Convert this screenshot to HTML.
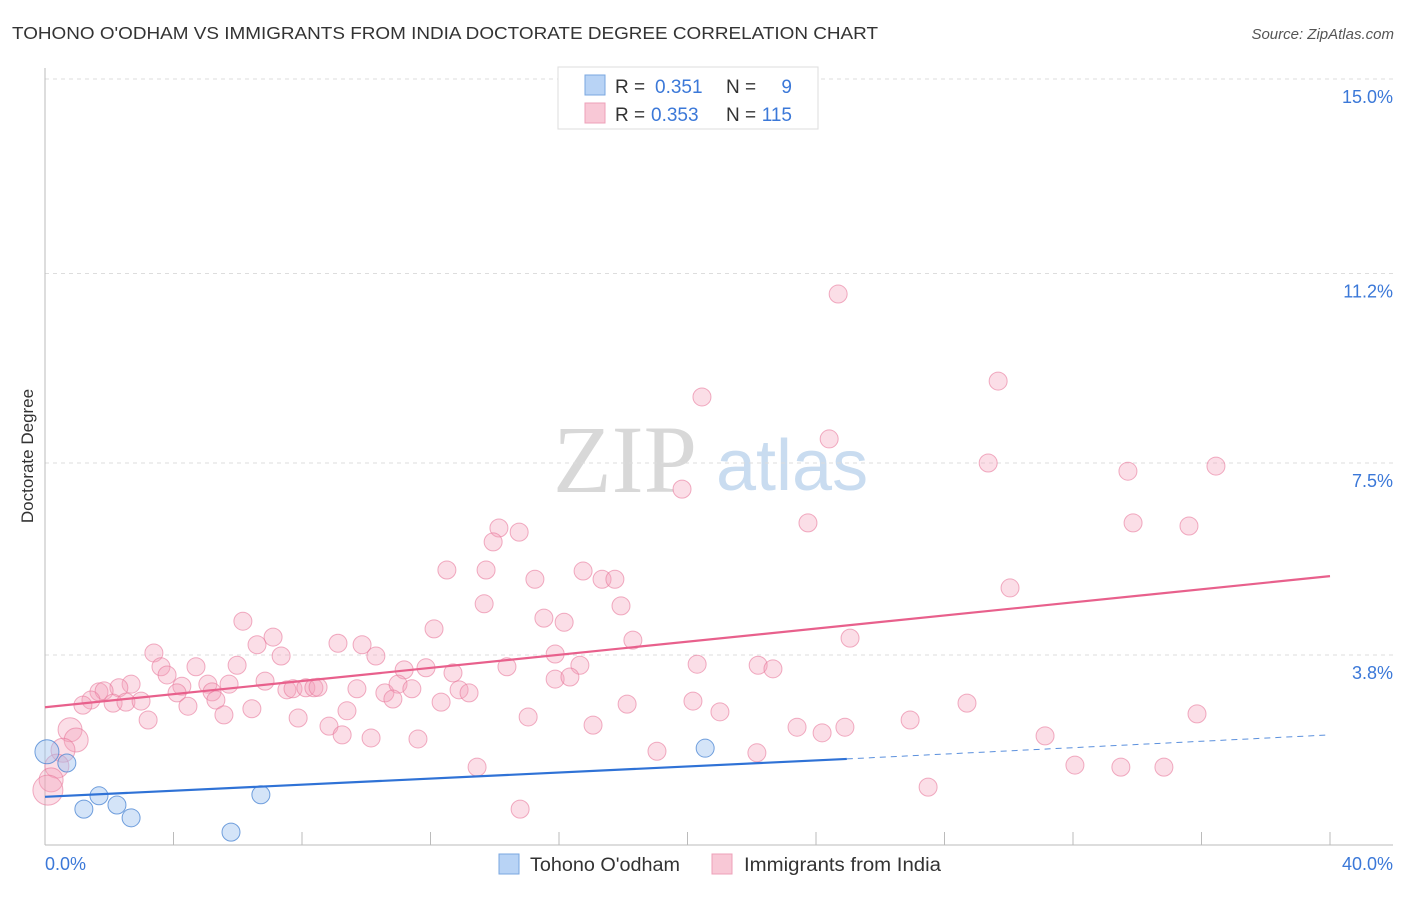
<!DOCTYPE html>
<html><head><meta charset="utf-8">
<style>
body{margin:0;background:#fff;font-family:"Liberation Sans",sans-serif;}
svg text{font-family:"Liberation Sans",sans-serif;}
</style></head>
<body>
<svg id="chart" width="1406" height="892" xmlns="http://www.w3.org/2000/svg">
<text x="12" y="39" font-size="17.5" fill="#333" textLength="866" lengthAdjust="spacingAndGlyphs">TOHONO O'ODHAM VS IMMIGRANTS FROM INDIA DOCTORATE DEGREE CORRELATION CHART</text>
<text x="1394" y="39" font-size="15" fill="#555" text-anchor="end" font-style="italic">Source: ZipAtlas.com</text>
<text x="553" y="492" font-size="96" fill="#d8d8d8" font-family="Liberation Serif" style="font-family:'Liberation Serif',serif">ZIP</text>
<text x="716" y="490" font-size="72" fill="#c9dcf0">atlas</text>
<text transform="translate(33,456) rotate(-90)" font-size="17" fill="#333" text-anchor="middle">Doctorate Degree</text>
<g id="grid"></g>
<g id="axes"></g>
<g id="marks"></g>
<g>
<rect x="558" y="67" width="260" height="62" fill="#fff" stroke="#ddd"/>
<rect x="585" y="75" width="20" height="20" fill="#b8d3f5" stroke="#7aa7e0"/>
<text x="615" y="93" font-size="19" fill="#333">R = </text><text x="655" y="93" font-size="19" fill="#3b78d8">0.351</text>
<text x="726" y="93" font-size="19" fill="#333">N = </text><text x="792" y="93" font-size="19" fill="#3b78d8" text-anchor="end">9</text>
<rect x="585" y="103" width="20" height="20" fill="#f8c8d6" stroke="#eea0b8"/>
<text x="615" y="121" font-size="19" fill="#333">R = </text><text x="651" y="121" font-size="19" fill="#3b78d8">0.353</text>
<text x="726" y="121" font-size="19" fill="#333">N = </text><text x="792" y="121" font-size="19" fill="#3b78d8" text-anchor="end">115</text>
</g>
<g>
<rect x="499" y="854" width="20" height="20" fill="#b8d3f5" stroke="#7aa7e0"/>
<text x="530" y="871" font-size="19" fill="#333" textLength="150" lengthAdjust="spacingAndGlyphs">Tohono O'odham</text>
<rect x="712" y="854" width="20" height="20" fill="#f8c8d6" stroke="#eea0b8"/>
<text x="744" y="871" font-size="19" fill="#333" textLength="197" lengthAdjust="spacingAndGlyphs">Immigrants from India</text>
</g>
</svg>
<script>
const blueX=[0.06,0.68,1.68,1.21,2.24,2.68,6.72,5.79,20.55];
const blueY=[1.86,1.64,1.00,0.74,0.82,0.57,1.02,0.29,1.93];
const pinkX=[24.69,29.67,20.45,24.41,29.36,33.71,36.45,19.83,23.75,33.87,35.61,14.13,14.76,13.95,12.51,13.73,15.25,16.75,17.34,17.74,30.04,13.67,17.93,15.53,16.16,6.16,12.11,7.10,6.60,9.12,9.87,18.30,25.06,3.39,10.30,7.35,15.88,3.61,4.70,5.98,3.80,11.18,11.86,12.70,14.38,16.65,20.30,22.20,22.66,2.68,2.30,1.68,1.84,4.26,5.07,5.73,6.85,7.53,7.72,8.12,8.37,8.50,9.71,10.58,10.99,11.42,12.89,13.20,4.11,5.20,1.43,1.18,2.12,2.52,2.99,4.45,5.32,15.88,16.34,10.83,12.33,18.12,20.17,28.70,6.44,5.57,3.21,7.88,9.40,8.84,9.25,10.15,11.61,15.04,17.06,21.01,23.41,24.19,24.90,26.93,35.86,31.13,0.78,0.97,0.56,0.37,0.19,0.09,19.05,22.16,13.45,32.06,33.49,34.83,27.49,14.79];
const pinkY=[10.80,9.10,8.79,7.97,7.50,7.34,7.44,6.99,6.33,6.33,6.27,6.23,6.15,5.96,5.41,5.41,5.23,5.39,5.23,5.23,5.06,4.75,4.71,4.47,4.39,4.41,4.26,4.10,3.95,3.98,3.95,4.04,4.08,3.79,3.73,3.73,3.77,3.52,3.52,3.55,3.36,3.46,3.50,3.40,3.52,3.55,3.57,3.55,3.48,3.18,3.11,3.03,3.05,3.14,3.18,3.18,3.24,3.07,3.09,3.11,3.11,3.12,3.09,3.01,3.18,3.09,3.07,3.01,3.01,3.03,2.87,2.77,2.81,2.83,2.85,2.75,2.87,3.28,3.32,2.89,2.83,2.79,2.85,2.81,2.70,2.58,2.48,2.52,2.66,2.36,2.19,2.13,2.11,2.54,2.38,2.64,2.34,2.23,2.34,2.48,2.60,2.17,2.29,2.09,1.89,1.58,1.31,1.11,1.87,1.84,1.56,1.60,1.56,1.56,1.17,0.74];
const yTicks=[3.8,7.5,11.2,15.0];
const yTickLabels=["3.8%","7.5%","11.2%","15.0%"];
const xTicks=[0,4,8,12,16,20,24,28,32,36,40];
const pinkTrend=[[0,2.73],[40,5.29]];
const blueTrend=[[0,0.98],[24.96,1.72]];
const blueTrendExt=[[24.96,1.72],[40,2.19]];

const NS="http://www.w3.org/2000/svg";
const sx=v=>45+v/40*1285;
const sy=v=>847-v/3.75*192;
function mk(tag,attrs,parent){const e=document.createElementNS(NS,tag);for(const k in attrs)e.setAttribute(k,attrs[k]);parent.appendChild(e);return e;}
const grid=document.getElementById('grid'),axes=document.getElementById('axes'),marks=document.getElementById('marks');
yTicks.forEach((t,i)=>{
  const yy=sy(t===3.8?3.75:t);
  const l=mk('line',{x1:45,x2:1393,y1:yy,y2:yy,stroke:'#ddd','stroke-dasharray':'4,4'},grid);
  
  
  const tx=mk('text',{x:1393,y:yy+24,'font-size':18,fill:'#3b78d8','text-anchor':'end'},axes);
  tx.textContent=yTickLabels[i];
  
  
});
const ya=mk('line',{x1:45,x2:45,y1:68,y2:845,stroke:'#bbb'},axes);


const xa=mk('line',{x1:45,x2:1393,y1:845,y2:845,stroke:'#bbb'},axes);


xTicks.forEach(t=>{
  const tk=mk('line',{x1:sx(t),x2:sx(t),y1:832,y2:845,stroke:'#bbb'},axes);
  
  
});
const xl0=mk('text',{x:45,y:870,'font-size':18,fill:'#3b78d8'},axes);xl0.textContent='0.0%';


const xl1=mk('text',{x:1393,y:870,'font-size':18,fill:'#3b78d8','text-anchor':'end'},axes);xl1.textContent='40.0%';



pinkX.forEach((x,i)=>{
  const r=x<0.15?15:(x<1?12:9);
  const c=mk('circle',{cx:sx(x),cy:sy(pinkY[i]),r:r,fill:'rgba(244,160,185,0.35)',stroke:'rgba(232,120,155,0.6)','stroke-width':1},marks);
  
  
});
blueX.forEach((x,i)=>{
  const r=x<0.15?12:9;
  const c=mk('circle',{cx:sx(x),cy:sy(blueY[i]),r:r,fill:'rgba(160,196,240,0.45)',stroke:'rgba(70,130,210,0.75)','stroke-width':1},marks);
  
  
});
const pl=mk('line',{x1:sx(pinkTrend[0][0]),y1:sy(pinkTrend[0][1]),x2:sx(pinkTrend[1][0]),y2:sy(pinkTrend[1][1]),stroke:'#e8608c','stroke-width':2.2},marks);


const bl=mk('line',{x1:sx(blueTrend[0][0]),y1:sy(blueTrend[0][1]),x2:sx(blueTrend[1][0]),y2:sy(blueTrend[1][1]),stroke:'#2f72d6','stroke-width':2.2},marks);


const be=mk('line',{x1:sx(blueTrendExt[0][0]),y1:sy(blueTrendExt[0][1]),x2:sx(blueTrendExt[1][0]),y2:sy(blueTrendExt[1][1]),stroke:'#5b90dd','stroke-width':1,'stroke-dasharray':'6,5'},marks);


</script>
</body></html>
